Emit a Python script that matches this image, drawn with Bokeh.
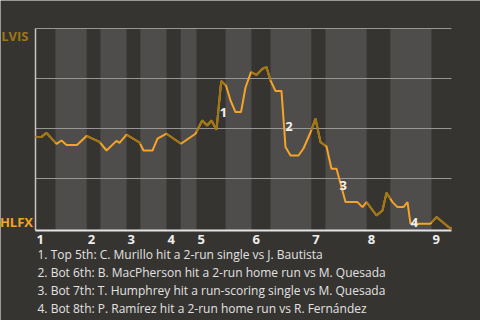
from bokeh.plotting import figure
from bokeh.models import Range1d
from bokeh.core.properties import value
from bokeh.embed import file_html
from bokeh.resources import INLINE
import numpy as np

# ---- data ----
away, home = "LVIS", "HLFX"
# half-inning boundaries in game-progress units (0..100)
half_bounds = [0, 4.8, 12.3, 15.6, 21.9, 25.2, 31.5, 34.9, 38.7, 45.7, 51.9,
               56.5, 66.3, 69.7, 79.6, 85.3, 95.2, 100]
innings = ["1", "2", "3", "4", "5", "6", "7", "8", "9"]
grid_levels = [0.25, 0.5, 0.75, 1.0]
# win probability of the away team (LVIS)
wp_x = [0, 1.44, 2.64, 5.05, 6.25, 7.45, 9.98, 12.26, 15.38, 17.07, 19.47, 20.19,
        21.88, 25.0, 25.96, 28.13, 29.33, 31.49, 34.98, 38.46, 40.07, 41.27, 42.31,
        43.51, 44.64, 45.79, 46.88, 48.08, 49.4, 50.48, 51.8, 53.13, 54.57, 55.53,
        56.49, 57.69, 59.13, 60.1, 61.3, 63.22, 64.42, 66.1, 67.31, 68.51, 69.95,
        71.15, 72.36, 74.52, 77.4, 78.61, 79.57, 81.97, 83.41, 84.38, 85.82, 87.02,
        88.46, 89.42, 90.14, 94.95, 96.39, 99.28, 100]
wp_y = [0.458, 0.458, 0.478, 0.423, 0.44, 0.418, 0.418, 0.463, 0.433, 0.39, 0.438,
        0.428, 0.469, 0.43, 0.39, 0.39, 0.449, 0.474, 0.424, 0.474, 0.54, 0.515,
        0.54, 0.494, 0.737, 0.715, 0.64, 0.582, 0.582, 0.705, 0.782, 0.768, 0.799,
        0.807, 0.74, 0.688, 0.688, 0.407, 0.365, 0.365, 0.40, 0.48, 0.549, 0.432,
        0.41, 0.299, 0.299, 0.132, 0.132, 0.107, 0.132, 0.065, 0.09, 0.179, 0.132,
        0.107, 0.107, 0.132, 0.024, 0.024, 0.057, 0.007, 0.0]
event_ids = ["1", "2", "3", "4"]
event_x = [45.2, 60.9, 74.0, 91.1]
event_y = [0.58, 0.51, 0.215, 0.03]
event_text = [
    "1. Top 5th: C. Murillo hit a 2-run single vs J. Bautista",
    "2. Bot 6th: B. MacPherson hit a 2-run home run vs M. Quesada",
    "3. Bot 7th: T. Humphrey hit a run-scoring single vs M. Quesada",
    "4. Bot 8th: P. Ramírez hit a 2-run home run vs R. Fernández",
]

# ---- layout / style ----
W, H = 480, 320
PX_L, PX_R = 35, 451          # pixel x of progress 0 and 100
PX_T, PX_B = 28, 228          # pixel y of wp 1.0 and 0.0
sx = (PX_R - PX_L) / 100.0
sy = (PX_B - PX_T) / 1.0
x_lo, x_hi = -PX_L / sx, (W - PX_L) / sx
y_hi, y_lo = PX_B / sy, (PX_B - H) / sy
y_floor = -2 / sy             # bottom of the chart area (axis line)

BG = "#363431"
LIGHT = "#4e4d4b"
AWAY_C = "#9e7615"
HOME_C = "#f5a428"
FONT = value("Open Sans")

p = figure(width=W, height=H, x_range=Range1d(x_lo, x_hi), y_range=Range1d(y_lo, y_hi),
           output_backend="svg", toolbar_location=None,
           min_border=0, min_border_left=0, min_border_right=0, min_border_top=0,
           min_border_bottom=0, x_axis_type=None, y_axis_type=None)
p.background_fill_color = BG
p.border_fill_color = BG
p.outline_line_color = None
p.grid.visible = False

# bands for bottom halves
bl = [half_bounds[i] for i in range(1, len(half_bounds) - 1, 2)]
br = [half_bounds[i + 1] for i in range(1, len(half_bounds) - 1, 2)]
p.quad(left=bl, right=br, bottom=y_floor, top=1.0, fill_color=LIGHT, line_color=None)

# horizontal grid lines
p.segment(x0=0, x1=100, y0=grid_levels, y1=grid_levels, line_color="#979795", line_width=1)

# axis lines
p.segment(x0=[0], x1=[0], y0=[y_floor], y1=[1.0], line_color="#c4c4c4", line_width=1.5)
p.segment(x0=[0], x1=[100], y0=[y_floor], y1=[y_floor], line_color="#e4e4e4", line_width=2)

# win probability line
p.line(wp_x, wp_y, line_color=HOME_C, line_width=2)
xs, ys = [], []
wx = np.array(wp_x); wy = np.array(wp_y)
for i in range(0, len(half_bounds) - 1, 2):
    a, b = half_bounds[i], half_bounds[i + 1]
    seg = [a] + [x for x in wp_x if a < x < b] + [b]
    xs.append(seg)
    ys.append(list(np.interp(seg, wx, wy)))
p.multi_line(xs, ys, line_color=AWAY_C, line_width=2)

# event markers
p.text(x=event_x, y=event_y, text=event_ids, text_color="#f2f2f2", text_font_size="13px",
       text_font_style="bold", text_align="center", text_baseline="middle", text_font=FONT)

# inning labels
top_starts = [half_bounds[i] for i in range(0, len(half_bounds) - 1, 2)]
p.text(x=top_starts, y=[-11 / sy] * len(top_starts), text=innings, x_offset=1,
       text_color="#eeeeee", text_font_size="13px", text_font_style="bold",
       text_align="left", text_baseline="middle", text_font=FONT)

# team labels
p.text(x=[0, 0], y=[0.965, 0.035], text=[away, home], x_offset=[-7, -2.5],
       text_color=[AWAY_C, HOME_C], text_font_size="13px", text_font_style="bold",
       text_align="right", text_baseline="middle", text_font=FONT)

# event descriptions
cap_y = [-(26 + 18.1 * k) / sy for k in range(len(event_text))]
p.text(x=[0] * len(event_text), y=cap_y, text=event_text, x_offset=2,
       text_color="#e2e2e2", text_font_size="12px",
       text_align="left", text_baseline="middle", text_font=FONT)

open("out.html", "w").write(file_html(p, INLINE))
